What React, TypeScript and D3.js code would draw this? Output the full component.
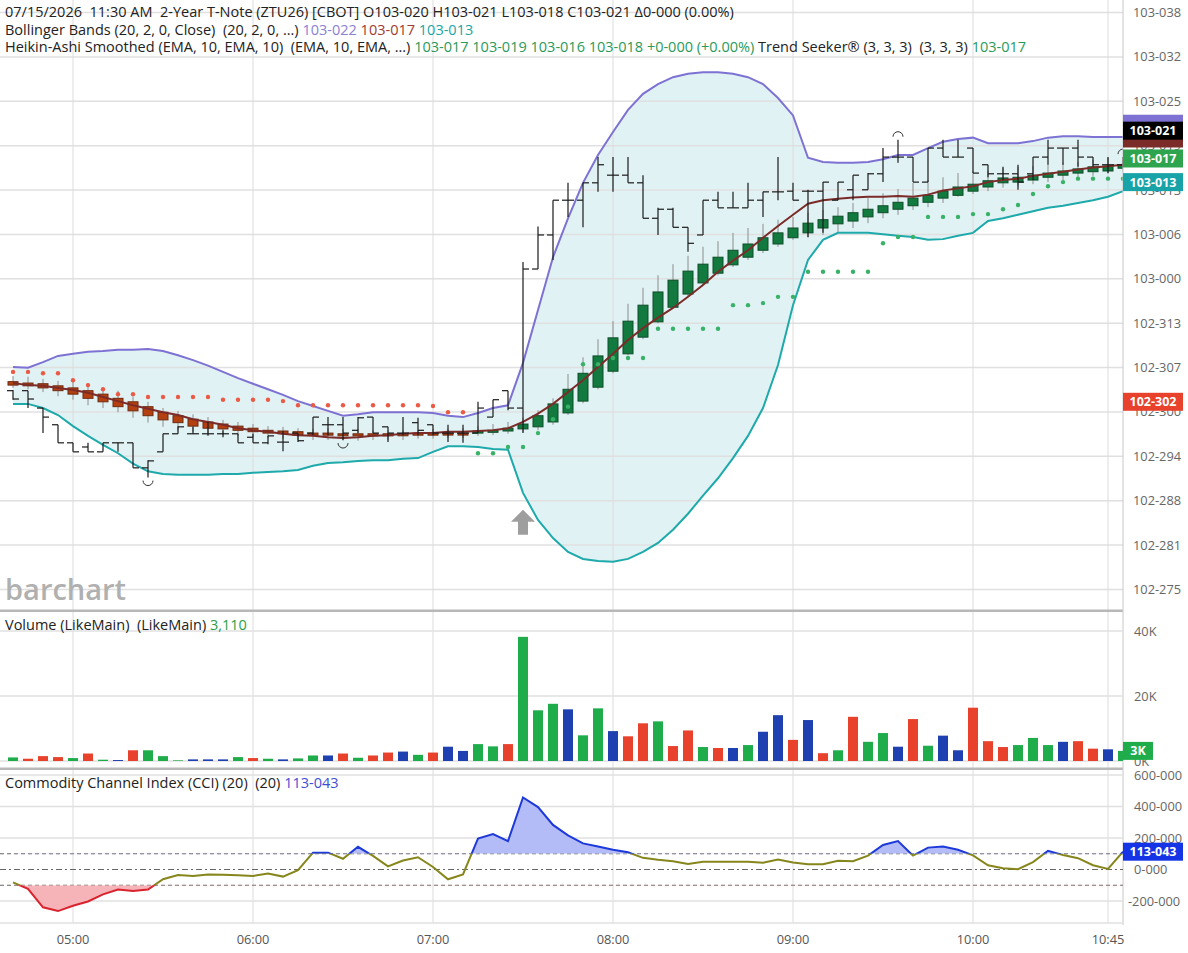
import React from 'react';
import * as d3 from 'd3';

const FONT = "'Open Sans', 'Noto Sans', sans-serif";

// 5-minute bars from 04:40 to 10:50
const firstBar = '04:40';
const lastBar = '10:50';
const timeTicks = ['05:00', '06:00', '07:00', '08:00', '09:00', '10:00', '10:45'];

const priceTicks = ['103-038', '103-032', '103-025', '103-019', '103-013', '103-006', '103-000',
  '102-313', '102-307', '102-300', '102-294', '102-288', '102-281', '102-275'];
const volTicks = [0, 20, 40];
const cciTicks = [600, 400, 200, 0, -200];

// prices are in tenths of a 32nd above 103-00 (same notation as the axis)
const barOpen = [-16.4, -16.4, -18.9, -21.3, -23.9, -24.5, -25.2, -23.9, -23.9, -27.5,
  -25.2, -22.6, -22.6, -22.6, -22.6, -22.6, -23.1, -23.9, -23.8, -22.5,
  -22.5, -21.3, -21.3, -22.1, -20.2, -21.6, -22.5, -21.0, -21.3, -22.5,
  -22.5, -22.5, -20.2, -16.4, -18.9, 1.1, 6.0, 11.0, 11.0, 13.5,
  14.6, 14.6, 13.5, 8.4, 9.7, 7.1, 6.0, 11.0, 9.9, 9.9,
  11.0, 12.2, 12.3, 12.3, 12.3, 11.0, 12.5, 12.5, 14.8, 17.2,
  17.2, 13.6, 18.5, 17.2, 18.5, 16.1, 14.8, 14.8, 14.8, 17.2,
  18.5, 18.5, 17.2, 16.1, 16.1];
const barHigh = [-16.3, -16.4, -18.9, -21.3, -23.9, -23.9, -23.9, -23.9, -23.9, -26.4,
  -22.6, -21.5, -21.6, -20.9, -22.1, -22.6, -22.6, -22.9, -22.2, -22.5,
  -20.2, -20.2, -20.2, -20.2, -20.2, -21.6, -20.2, -20.3, -21.3, -21.3,
  -21.3, -18.0, -17.7, -16.4, 2.1, 7.2, 11.0, 13.5, 13.5, 17.2,
  17.2, 17.2, 14.6, 9.9, 9.9, 7.1, 11.0, 12.2, 12.2, 13.5,
  12.2, 17.2, 13.5, 12.5, 13.6, 13.6, 14.6, 14.9, 18.5, 19.7,
  17.2, 18.5, 19.7, 19.7, 18.5, 16.1, 15.8, 16.1, 17.2, 19.7,
  18.5, 19.7, 17.2, 17.2, 17.2];
const barLow = [-17.7, -18.9, -22.5, -23.9, -25.2, -25.2, -25.2, -25.2, -27.5, -28.9,
  -25.2, -22.6, -22.6, -22.9, -23.1, -23.9, -23.9, -24.1, -25.1, -23.8,
  -22.8, -22.8, -23.5, -22.5, -22.5, -23.8, -22.8, -22.8, -22.8, -23.8,
  -23.9, -22.5, -20.2, -19.2, -22.5, 1.1, 2.4, 8.6, 7.1, 12.2,
  12.2, 13.5, 8.4, 6.0, 7.1, 3.6, 6.0, 9.9, 9.9, 9.9,
  8.6, 11.0, 11.0, 5.7, 6.3, 11.0, 11.0, 12.5, 13.6, 16.4,
  13.6, 13.6, 17.2, 17.2, 14.9, 14.3, 13.9, 12.5, 13.9, 16.1,
  16.1, 15.8, 15.8, 14.9, 15.8];
const barClose = [-17.6, -17.6, -20.2, -23.9, -25.2, -25.2, -23.9, -23.9, -27.5, -26.5,
  -22.6, -21.6, -22.6, -22.6, -22.6, -23.9, -23.9, -22.9, -23.8, -23.6,
  -20.2, -21.3, -22.5, -20.3, -22.5, -22.5, -22.5, -22.1, -22.5, -22.5,
  -22.5, -18.9, -17.7, -18.9, 1.1, 6.0, 11.0, 11.0, 13.5, 16.1,
  14.6, 13.5, 8.4, 9.7, 7.1, 4.8, 11.0, 9.9, 9.9, 11.0,
  12.2, 12.2, 11.0, 12.3, 13.6, 13.6, 14.6, 14.8, 17.2, 17.2,
  13.6, 18.5, 17.2, 17.2, 14.9, 14.8, 14.8, 13.6, 17.2, 18.5,
  18.5, 17.2, 16.1, 16.1, 16.4];

// Heikin-Ashi smoothed
const haOpen = [-15.1, -15.3, -15.4, -15.7, -16.0, -16.4, -16.9, -17.5, -18.0, -18.7,
  -19.5, -20.0, -20.5, -20.9, -21.2, -21.5, -21.8, -22.1, -22.2, -22.3,
  -22.5, -22.5, -22.6, -22.6, -22.6, -22.6, -22.6, -22.5, -22.5, -22.5,
  -22.5, -22.5, -22.3, -22.2, -21.9, -21.6, -20.9, -19.6, -17.9, -15.9,
  -13.6, -11.1, -8.7, -6.5, -4.4, -2.5, -0.9, 0.5, 1.7, 2.8,
  3.8, 4.7, 5.6, 6.3, 7.0, 7.6, 8.0, 8.6, 9.2, 9.7,
  10.2, 10.7, 11.3, 11.7, 12.3, 12.9, 13.5, 13.6, 13.9, 14.3,
  14.6, 14.9, 15.1, 15.2, 15.6];
const haClose = [-15.6, -15.7, -16.0, -16.4, -16.9, -17.5, -18.0, -18.7, -19.3, -20.0,
  -20.6, -21.0, -21.5, -21.8, -21.9, -22.1, -22.3, -22.5, -22.6, -22.8,
  -22.8, -22.8, -22.9, -22.9, -22.9, -22.9, -22.8, -22.8, -22.8, -22.6,
  -22.6, -22.2, -22.1, -21.8, -21.2, -20.0, -18.3, -16.2, -13.9, -11.4,
  -8.8, -6.4, -4.1, -2.2, -0.5, 0.8, 1.8, 2.8, 3.8, 4.7,
  5.6, 6.3, 7.0, 7.7, 8.2, 8.7, 9.2, 9.7, 10.2, 10.7,
  11.3, 11.7, 12.3, 12.9, 13.3, 13.8, 14.2, 14.3, 14.6, 14.9,
  15.2, 15.5, 15.8, 15.9, 16.1];
const haHigh = [-14.3, -14.4, -14.7, -15.0, -15.1, -15.3, -15.9, -16.4, -17.2, -18.0,
  -18.9, -19.3, -19.8, -20.2, -20.6, -20.9, -21.2, -21.5, -21.6, -21.8,
  -21.9, -21.8, -21.9, -21.9, -22.1, -22.1, -22.1, -22.1, -21.9, -21.9,
  -21.8, -21.5, -21.2, -20.9, -20.3, -19.2, -17.5, -14.0, -11.6, -9.0,
  -6.4, -3.9, -1.6, 0.2, 1.8, 3.0, 4.3, 5.1, 6.3, 7.0,
  7.6, 8.2, 8.6, 9.2, 9.6, 10.0, 10.6, 11.3, 12.0, 12.6,
  13.5, 13.9, 14.3, 14.9, 15.2, 15.3, 15.6, 15.8, 15.9, 16.1,
  16.4, 16.5, 16.8, 17.1, 17.2];
const haLow = [-16.0, -16.2, -16.6, -17.2, -17.7, -18.5, -18.9, -19.5, -20.3, -21.0,
  -21.6, -22.1, -22.3, -22.6, -22.8, -22.9, -23.1, -23.2, -23.3, -23.5,
  -23.5, -23.5, -23.6, -23.6, -23.5, -23.5, -23.5, -23.3, -23.3, -23.2,
  -23.2, -22.9, -22.8, -22.6, -22.3, -22.1, -21.3, -19.9, -18.2, -16.2,
  -13.9, -11.3, -9.0, -6.7, -4.5, -2.9, -1.2, 0.2, 1.4, 2.4,
  3.4, 4.3, 5.3, 5.6, 6.0, 6.4, 7.0, 7.7, 8.4, 8.9,
  9.6, 10.0, 10.6, 11.5, 11.9, 12.3, 12.8, 13.0, 13.3, 13.6,
  13.9, 14.2, 14.5, 14.8, 15.1];

// Bollinger bands (20, 2)
const bbUpper = [-13.0, -13.1, -12.3, -11.4, -11.1, -10.8, -10.7, -10.5, -10.5, -10.4,
  -10.7, -11.3, -12.0, -12.8, -13.7, -14.6, -15.4, -16.2, -17.0, -17.9,
  -18.6, -19.3, -20.0, -19.8, -19.5, -19.5, -19.5, -19.5, -19.6, -20.0,
  -20.2, -19.6, -18.9, -18.5, -12.4, -4.8, 2.8, 8.4, 13.5, 17.5,
  20.8, 24.0, 26.3, 27.7, 28.7, 29.2, 29.4, 29.4, 29.2, 28.7,
  27.7, 25.7, 23.2, 17.1, 16.5, 16.4, 16.4, 16.5, 16.9, 17.5,
  17.5, 18.5, 19.4, 19.8, 20.0, 19.2, 19.2, 19.2, 19.5, 20.0,
  20.2, 20.2, 20.1, 20.1, 20.1];
const bbMiddle = [-15.3, -15.6, -15.7, -16.0, -16.3, -16.7, -17.3, -17.9, -18.5, -19.0,
  -19.5, -19.9, -20.5, -20.9, -21.3, -21.8, -22.1, -22.3, -22.6, -22.8,
  -22.9, -23.1, -23.2, -23.1, -22.9, -22.8, -22.6, -22.5, -22.5, -22.3,
  -22.3, -22.2, -22.1, -21.8, -20.9, -19.7, -18.3, -16.6, -14.9, -13.0,
  -11.1, -9.1, -7.4, -5.9, -4.5, -2.9, -1.2, 0.7, 2.3, 3.8,
  5.6, 7.3, 8.9, 10.5, 11.0, 11.2, 11.4, 11.5, 11.5, 11.6,
  11.5, 11.8, 12.4, 12.7, 13.0, 13.6, 13.9, 14.1, 14.5, 14.8,
  15.1, 15.4, 15.7, 15.9, 16.1];
const bbLower = [-18.3, -18.3, -18.9, -19.9, -21.5, -22.9, -24.2, -25.4, -26.9, -28.0,
  -28.4, -28.5, -28.5, -28.5, -28.4, -28.4, -28.2, -28.1, -28.0, -27.8,
  -27.2, -26.8, -26.7, -26.5, -26.4, -26.4, -26.2, -26.1, -25.2, -24.4,
  -24.4, -24.5, -24.8, -24.9, -31.1, -35.0, -37.6, -39.6, -40.6, -40.9,
  -41.0, -40.6, -39.6, -38.3, -36.4, -34.1, -31.5, -29.0, -26.1, -22.9,
  -18.9, -12.7, -4.1, 2.4, 5.3, 6.3, 6.3, 6.3, 6.1, 5.9,
  5.7, 5.3, 5.4, 5.9, 6.3, 8.0, 8.4, 8.9, 9.4, 9.9,
  10.2, 10.6, 11.0, 11.5, 12.3];

// Trend Seeker dots: 1 = long (green, below), -1 = short (red, above)
const tsValue = [-13.7, -13.7, -13.9, -13.9, -14.9, -15.6, -16.2, -16.9, -16.9, -17.3,
  -17.3, -17.3, -17.3, -17.3, -17.7, -17.7, -17.7, -17.7, -17.9, -18.5,
  -18.5, -18.5, -18.5, -18.5, -18.5, -18.5, -18.5, -18.5, -18.6, -19.5,
  -19.5, -25.4, -25.4, -24.5, -24.5, -22.5, -20.5, -18.7, -12.6, -12.6,
  -11.7, -11.7, -11.7, -7.5, -7.5, -7.5, -7.5, -7.5, -4.1, -4.1,
  -3.8, -2.9, -2.9, 0.7, 0.7, 0.7, 0.7, 0.7, 4.8, 5.7,
  5.7, 8.6, 8.6, 8.6, 9.0, 9.0, 9.7, 10.3, 11.9, 13.0,
  13.6, 14.1, 14.1, 14.1, 14.1];
const tsDir = [-1, -1, -1, -1, -1, -1, -1, -1, -1, -1, -1, -1, -1, -1, -1, -1, -1, -1, -1, -1,
  -1, -1, -1, -1, -1, -1, -1, -1, -1, -1, -1, 1, 1, 1, 1, 1, 1, 1, 1, 1,
  1, 1, 1, 1, 1, 1, 1, 1, 1, 1, 1, 1, 1, 1, 1, 1, 1, 1, 1, 1,
  1, 1, 1, 1, 1, 1, 1, 1, 1, 1, 1, 1, 1, 1, 1];
const swingLows = [9, 22];
const swingHighs = [59, 74];
const signalBar = 34;

// volume in thousands, g = up, r = down, b = neutral
const volume = [1.1, 0.7, 1.5, 1.2, 0.9, 2.3, 0.4, 0.3, 3.3, 3.3,
  1.5, 0.2, 0.5, 0.5, 0.5, 1.2, 0.9, 0.7, 0.5, 0.8,
  1.7, 1.7, 2.3, 1.0, 1.7, 2.6, 2.9, 1.9, 2.6, 4.4,
  3.1, 5.2, 4.5, 5.2, 38.2, 15.6, 17.6, 15.9, 7.9, 16.2,
  9.2, 7.6, 11.6, 12.2, 4.6, 9.4, 4.3, 4.0, 4.0, 4.9,
  9.0, 14.1, 6.5, 12.6, 2.4, 3.3, 13.6, 5.9, 8.6, 4.4,
  12.9, 4.7, 7.8, 3.3, 16.4, 6.1, 4.3, 4.9, 7.1, 4.9,
  5.9, 6.1, 3.8, 3.6, 3.11];
const volColor = ['g', 'r', 'r', 'r', 'g', 'r', 'g', 'b', 'r', 'g',
  'g', 'g', 'b', 'b', 'b', 'g', 'r', 'g', 'b', 'g',
  'g', 'b', 'r', 'g', 'r', 'r', 'b', 'g', 'r', 'b',
  'b', 'g', 'g', 'r', 'g', 'g', 'g', 'b', 'g', 'g',
  'b', 'r', 'r', 'g', 'r', 'r', 'g', 'r', 'b', 'g',
  'b', 'b', 'r', 'b', 'r', 'g', 'r', 'g', 'g', 'b',
  'r', 'g', 'b', 'b', 'r', 'r', 'r', 'g', 'g', 'g',
  'b', 'r', 'r', 'b', 'g'];

const cci = [-82, -123, -240, -264, -230, -203, -158, -127, -137, -127,
  -62, -35, -41, -31, -33, -37, -41, -25, -45, -4,
  107, 107, 68, 144, 86, 20, 57, 78, 16, -62,
  -31, 197, 225, 180, 457, 396, 283, 217, 166, 146,
  125, 109, 74, 62, 53, 35, 49, 49, 49, 49,
  43, 64, 45, 33, 33, 55, 53, 88, 156, 180,
  88, 139, 146, 125, 90, 27, 8, 2, 47, 119,
  92, 72, 27, 4, 113.043];

// last values shown in the legends / price badges
const lastOHLC = [20, 21, 18, 21];
const bbLast = [22, 17, 13.6];
const haLast = [17, 19, 16, 18];
const tsLast = 17;
const refPrice = -18;

const VOL_COL: Record<string, string> = { g: '#1fad4c', r: '#e8412c', b: '#1f40b0' };

const parsePrice = (s: string) => {
  const [a, b] = s.split('-');
  return (+a - 103) * 320 + +b;
};
const fmtPrice = (t: number) => {
  const f = Math.floor(t);
  return f >= 0 ? `103-${String(f).padStart(3, '0')}` : `102-${320 + f}`;
};

const RIGHT = 1123;
const LEGEND = 14.5;
const AXIS = 12.8;

export default function App() {
  const parseT = d3.timeParse('%H:%M');
  const t0 = parseT(firstBar) as Date;
  const x = d3.scaleTime().domain([t0, parseT(lastBar) as Date]).range([13, RIGHT]);
  const bx = (i: number) => x(d3.timeMinute.offset(t0, 5 * i));
  const idx = d3.range(barClose.length);

  const pLo = parsePrice(priceTicks[priceTicks.length - 1]);
  const pHi = parsePrice(priceTicks[0]);
  const y = d3.scaleLinear().domain([pLo, pHi]).range([589.5, 12.5]);
  const tickVal = (k: number) => pHi + (pLo - pHi) * k / (priceTicks.length - 1);

  const yv = d3.scaleLinear().domain([0, 40]).range([761, 631]);
  const yc = d3.scaleLinear().domain([-200, 600]).range([901, 775]);

  const band = d3.area<number>().x(bx).y0((i) => y(bbLower[i])).y1((i) => y(bbUpper[i]))(idx) || '';
  const line = (arr: number[]) => d3.line<number>().x(bx).y((i) => y(arr[i]))(idx) || '';
  const cciLine = d3.line<number>().x(bx).y((i) => yc(cci[i]))(idx) || '';
  const cciUp = d3.area<number>().x(bx).y0(yc(100)).y1((i) => yc(cci[i]))(idx) || '';
  const cciDn = d3.area<number>().x(bx).y0(yc(-100)).y1((i) => yc(cci[i]))(idx) || '';

  const hourLines = timeTicks.map((s) => x(parseT(s) as Date));
  const txt = { fontFamily: FONT, whiteSpace: 'pre' as const };

  // price badges on the right axis; hidden ones (covered by others) carry no text
  const badge = (val: number, color: string, dy = 0, showText = true) => {
    const cy = y(val) + dy;
    return (
      <g key={color + val}>
        <rect x={RIGHT} y={cy - 9} width={60} height={18} fill={color} />
        {showText && (
          <text x={RIGHT + 30} y={cy + 4.5} textAnchor="middle" fill="#fff" fontSize={12.5} fontWeight={700} style={txt}>
            {fmtPrice(val)}
          </text>
        )}
      </g>
    );
  };

  const sig = bx(signalBar);
  const sigTop = y(bbLower[signalBar]) + 17;
  const cciLast = d3.format('.3f')(cci[cci.length - 1]).replace('.', '-');

  return (
    <svg width={1188} height={953} style={{ position: 'absolute', left: 0, top: 0, background: '#fff' }}>
      <defs>
        <clipPath id="mainClip"><rect x={0} y={0} width={RIGHT} height={610} /></clipPath>
        <clipPath id="volClip"><rect x={0} y={612} width={RIGHT} height={156} /></clipPath>
        <clipPath id="cciHi"><rect x={0} y={770} width={RIGHT} height={yc(100) - 770} /></clipPath>
        <clipPath id="cciMid"><rect x={0} y={yc(100)} width={RIGHT} height={yc(-100) - yc(100)} /></clipPath>
        <clipPath id="cciLo"><rect x={0} y={yc(-100)} width={RIGHT} height={923 - yc(-100)} /></clipPath>
      </defs>

      {/* ---------- main panel ---------- */}
      <path d={band} fill="#e1f2f4" clipPath="url(#mainClip)" />
      {priceTicks.map((s, k) => (
        <line key={s} x1={0} x2={RIGHT} y1={y(tickVal(k))} y2={y(tickVal(k))} stroke="#e0e0e0" strokeWidth={1.5} />
      ))}
      {hourLines.map((hx, k) => (
        <line key={k} x1={hx} x2={hx} y1={0} y2={923} stroke="#dcdcdc" strokeWidth={1} />
      ))}

      <text x={5} y={600} fontSize={29} fontWeight={600} fill="#b0b0b0" style={txt}>barchart</text>

      <g clipPath="url(#mainClip)">
        <path d={line(bbUpper)} fill="none" stroke="#7d72d3" strokeWidth={2} />
        <path d={line(bbLower)} fill="none" stroke="#1ea9ab" strokeWidth={2} />

        {idx.map((i) => {
          const up = haClose[i] >= haOpen[i];
          const top = y(Math.max(haOpen[i], haClose[i]));
          const h = Math.max(2, Math.abs(y(haOpen[i]) - y(haClose[i])));
          return (
            <g key={'ha' + i}>
              <line x1={bx(i)} x2={bx(i)} y1={y(haHigh[i])} y2={y(haLow[i])} stroke="#8c8c8c" strokeWidth={1} />
              <rect x={bx(i) - 5} y={top} width={10} height={h}
                fill={up ? '#137a3f' : '#b5400f'} stroke={up ? '#0c4d28' : '#6d2a10'} strokeWidth={1} />
            </g>
          );
        })}

        <path d={line(bbMiddle)} fill="none" stroke="#7b2b28" strokeWidth={2} />

        {idx.map((i) => (
          <circle key={'ts' + i} cx={bx(i)} cy={y(tsValue[i])} r={2.2}
            fill={tsDir[i] > 0 ? '#38b267' : '#ea5a45'} />
        ))}

        {idx.map((i) => (
          <g key={'b' + i} stroke="#1a1a1a" strokeWidth={1.2}>
            <line x1={bx(i)} x2={bx(i)} y1={y(barHigh[i])} y2={y(barLow[i])} />
            <line x1={bx(i) - 6} x2={bx(i)} y1={y(barOpen[i])} y2={y(barOpen[i])} />
            <line x1={bx(i)} x2={bx(i) + 6} y1={y(barClose[i])} y2={y(barClose[i])} />
          </g>
        ))}

        {swingLows.map((i) => {
          const cy = y(barLow[i]) + 3;
          return <path key={'sl' + i} d={`M${bx(i) - 5},${cy} A5,5 0 0,0 ${bx(i) + 5},${cy}`} fill="none" stroke="#333" strokeWidth={1} />;
        })}
        {swingHighs.map((i) => {
          const cy = y(barHigh[i]) - 3;
          return <path key={'sh' + i} d={`M${bx(i) - 5},${cy} A5,5 0 0,1 ${bx(i) + 5},${cy}`} fill="none" stroke="#333" strokeWidth={1} />;
        })}

        <path d={`M${sig - 12},${sigTop + 12} L${sig},${sigTop} L${sig + 12},${sigTop + 12} L${sig + 5},${sigTop + 12} L${sig + 5},${sigTop + 25} L${sig - 5},${sigTop + 25} L${sig - 5},${sigTop + 12} Z`} fill="#9e9e9e" />
      </g>

      {/* legend */}
      <text x={5} y={17} fontSize={LEGEND} fill="#222" style={txt}>
        07/15/2026  11:30 AM  2-Year T-Note (ZTU26) [CBOT] O{fmtPrice(lastOHLC[0])} H{fmtPrice(lastOHLC[1])} L{fmtPrice(lastOHLC[2])} C{fmtPrice(lastOHLC[3])} Δ0-000 (0.00%)
      </text>
      <text x={5} y={34.5} fontSize={LEGEND} fill="#222" style={txt}>
        Bollinger Bands (20, 2, 0, Close)  (20, 2, 0, ...) <tspan fill="#8c80d4">{fmtPrice(bbLast[0])}</tspan> <tspan fill="#a13a32">{fmtPrice(bbLast[1])}</tspan> <tspan fill="#1aa6a6">{fmtPrice(bbLast[2])}</tspan>
      </text>
      <text x={5} y={52} fontSize={LEGEND} fill="#222" style={txt}>
        Heikin-Ashi Smoothed (EMA, 10, EMA, 10)  (EMA, 10, EMA, ...) <tspan fill="#2a9a5a">{haLast.map(fmtPrice).join(' ')} +0-000 (+0.00%)</tspan> Trend Seeker® (3, 3, 3)  (3, 3, 3) <tspan fill="#2a9a5a">{fmtPrice(tsLast)}</tspan>
      </text>

      {/* ---------- panel frames ---------- */}
      <rect x={0} y={609.5} width={RIGHT} height={2.5} fill="#b8b8b8" />
      <rect x={0} y={767.5} width={RIGHT} height={2.5} fill="#b8b8b8" />
      <line x1={RIGHT} x2={RIGHT} y1={0} y2={925} stroke="#c8c8c8" />

      {/* ---------- volume ---------- */}
      {volTicks.map((v) => (
        <line key={'vg' + v} x1={0} x2={RIGHT} y1={yv(v)} y2={yv(v)} stroke="#e0e0e0" strokeWidth={1.5} />
      ))}
      <g clipPath="url(#volClip)">
        {idx.map((i) => (
          <rect key={'v' + i} x={bx(i) - 5} y={yv(volume[i])} width={10} height={yv(0) - yv(volume[i])} fill={VOL_COL[volColor[i]]} />
        ))}
      </g>
      <text x={5} y={630} fontSize={LEGEND} fill="#222" style={txt}>
        Volume (LikeMain)  (LikeMain) <tspan fill="#2aa04a">{d3.format(',')(Math.round(volume[volume.length - 1] * 1000))}</tspan>
      </text>

      {/* ---------- CCI ---------- */}
      {cciTicks.map((v) => (v === 0 ? null : (
        <line key={'cg' + v} x1={0} x2={RIGHT} y1={yc(v)} y2={yc(v)} stroke="#e0e0e0" strokeWidth={1.5} />
      )))}
      <line x1={0} x2={RIGHT} y1={923} y2={923} stroke="#e0e0e0" strokeWidth={1.5} />
      <line x1={0} x2={RIGHT} y1={yc(100)} y2={yc(100)} stroke="#666" strokeDasharray="4,3" />
      <line x1={0} x2={RIGHT} y1={yc(-100)} y2={yc(-100)} stroke="#666" strokeDasharray="4,3" />
      <line x1={0} x2={RIGHT} y1={yc(0)} y2={yc(0)} stroke="#666" strokeDasharray="6,3,2,3" />

      <path d={cciUp} fill="#b3bcf6" clipPath="url(#cciHi)" />
      <path d={cciDn} fill="#f6b3b8" clipPath="url(#cciLo)" />
      <path d={cciLine} fill="none" stroke="#1d39d9" strokeWidth={2} clipPath="url(#cciHi)" />
      <path d={cciLine} fill="none" stroke="#86861c" strokeWidth={2} clipPath="url(#cciMid)" />
      <path d={cciLine} fill="none" stroke="#d9232d" strokeWidth={2} clipPath="url(#cciLo)" />

      <text x={5} y={788} fontSize={LEGEND} fill="#222" style={txt}>
        Commodity Channel Index (CCI) (20)  (20) <tspan fill="#3d4fd6">{cciLast}</tspan>
      </text>

      {/* ---------- right axes ---------- */}
      <rect x={RIGHT + 1} y={0} width={65} height={953} fill="#fff" />
      {priceTicks.map((s, k) => (
        <text key={'pt' + s} x={1133} y={y(tickVal(k)) + 4.5} fontSize={AXIS} fill="#666" style={txt}>{s}</text>
      ))}
      {volTicks.map((v) => (
        <text key={'vt' + v} x={1134} y={yv(v) + 4.5} fontSize={AXIS} fill="#666" style={txt}>{v}K</text>
      ))}
      {cciTicks.map((v) => (
        <text key={'ct' + v} x={v < 0 ? 1128 : 1134} y={yc(v) + 4.5} fontSize={AXIS} fill="#666" style={txt}>{v}-000</text>
      ))}

      {badge(bbLast[0], '#7d72d3', 0, false)}
      {badge(bbLast[1], '#7b2b28', -20, false)}
      {badge(lastOHLC[3], '#000')}
      {badge(haLast[0], '#2ea44f')}
      {badge(bbLast[2], '#17a3a8')}
      {badge(refPrice, '#e8412c')}

      <rect x={RIGHT} y={yv(volume[volume.length - 1]) - 9} width={30} height={18} fill="#1fad4c" />
      <text x={RIGHT + 15} y={yv(volume[volume.length - 1]) + 4.5} textAnchor="middle" fill="#fff" fontSize={12.5} fontWeight={700} style={txt}>3K</text>

      <rect x={RIGHT} y={yc(cci[cci.length - 1]) - 9} width={60} height={18} fill="#1434e6" />
      <text x={RIGHT + 30} y={yc(cci[cci.length - 1]) + 4.5} textAnchor="middle" fill="#fff" fontSize={12.5} fontWeight={700} style={txt}>
        {cciLast}
      </text>

      {/* ---------- time axis ---------- */}
      {timeTicks.map((s, k) => (
        <text key={'tt' + s} x={hourLines[k]} y={944} textAnchor="middle" fontSize={AXIS} fill="#555" style={txt}>{s}</text>
      ))}
    </svg>
  );
}
